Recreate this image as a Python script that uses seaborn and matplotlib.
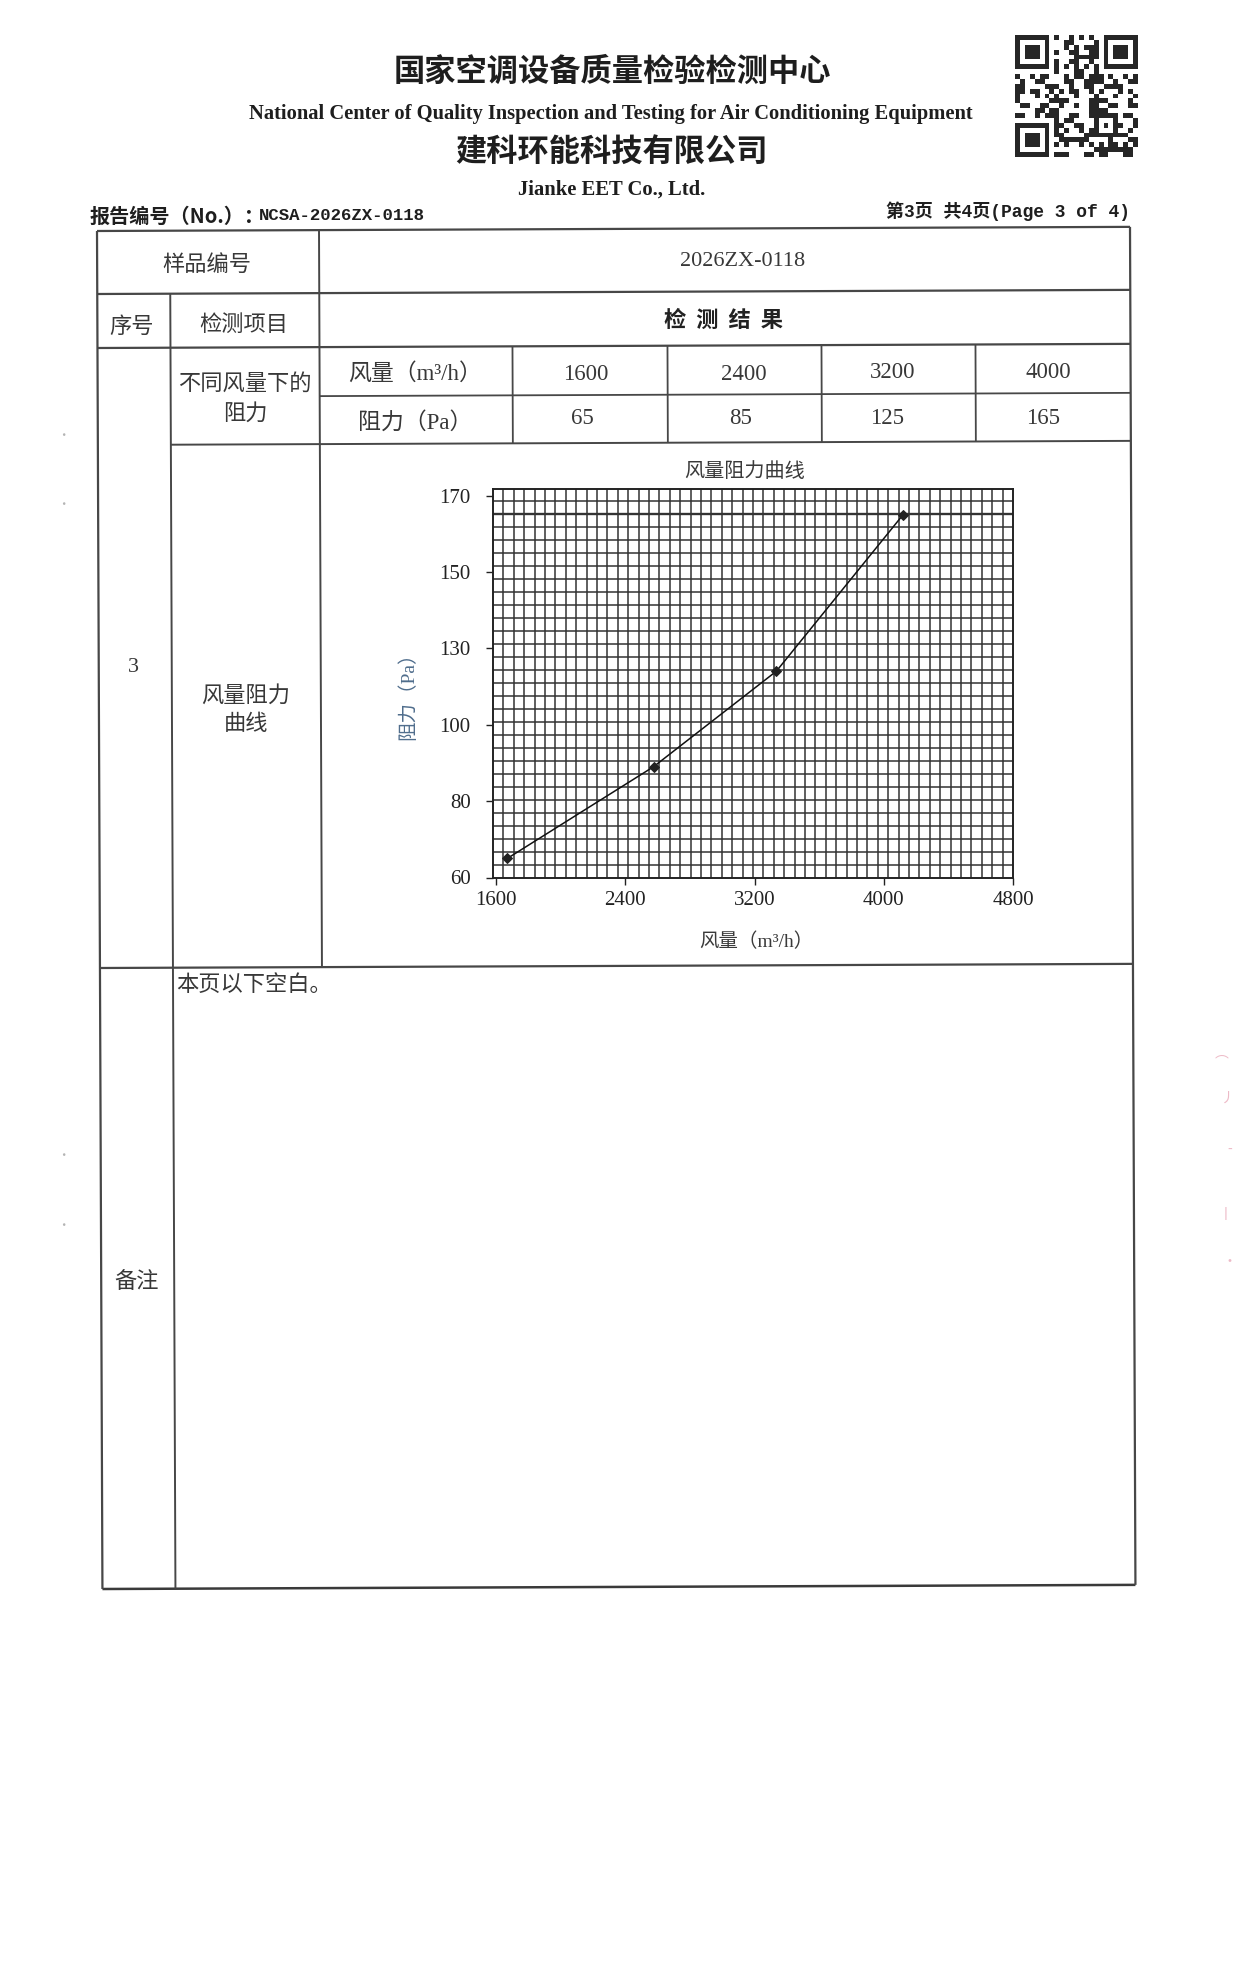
import numpy as np
import matplotlib
matplotlib.use('Agg')
import matplotlib.pyplot as plt
import matplotlib.ticker as mticker
from matplotlib.lines import Line2D
import seaborn as sns

# ---------------- data ----------------
table_airflow = [1600, 2400, 3200, 4000]
table_resistance = [65, 85, 125, 165]
curve_airflow = [1670, 2575, 3335, 4120]
curve_resistance = [65, 89, 121, 165]
x_ticks = [1600, 2400, 3200, 4000, 4800]
y_ticks = [60, 80, 100, 130, 150, 170]

sns.set_style('white')
CJK = 'Noto Sans CJK SC'
SERIF = ['Liberation Serif', CJK]
MONO = ['Liberation Mono', CJK]
plt.rcParams['font.family'] = [CJK, 'DejaVu Sans']

W, H = 1239, 1971
fig = plt.figure(figsize=(W / 100, H / 100), dpi=100)
fig.patch.set_facecolor('white')

A = 0.0040  # slight scan rotation


def P(x, y):
    xr = x + A * (y - 230)
    yr = y - A * (x - 97)
    return xr / W, 1 - yr / H


def seg(x0, y0, x1, y1, lw=1.4, c='#4a4a4a'):
    p0 = P(x0, y0)
    p1 = P(x1, y1)
    fig.add_artist(Line2D([p0[0], p1[0]], [p0[1], p1[1]],
                          transform=fig.transFigure, lw=lw, color=c,
                          solid_capstyle='butt'))


def txt(x, y, s, size=16, ha='center', va='center', family=None,
        weight='normal', color='#333333', **kw):
    fig.text(x / W, 1 - y / H, s, ha=ha, va=va, fontsize=size,
             family=family if family else [CJK, 'DejaVu Sans'],
             fontweight=weight, color=color, **kw)


# ---------------- header ----------------
txt(612, 72, '国家空调设备质量检验检测中心', size=22.5, weight='bold',
    color='#1e1e1e')
txt(611, 114, 'National Center of Quality Inspection and Testing for Air Conditioning Equipment',
    size=14.8, weight='bold', family=SERIF, color='#1e1e1e')
txt(611, 153, '建科环能科技有限公司', size=22.5, weight='bold',
    color='#1e1e1e')
txt(612, 190, 'Jianke EET Co., Ltd.', size=14.9, weight='bold',
    family=SERIF, color='#1e1e1e')
txt(90, 216, '报告编号（No.）：', size=14.5, ha='left', weight='bold',
    color='#1e1e1e')
txt(259, 216, 'NCSA-2026ZX-0118', size=12.5, ha='left', weight='bold',
    family=MONO, color='#1e1e1e')
txt(1130, 211, '第3页 共4页(Page 3 of 4)', size=13, ha='right',
    weight='bold', family=MONO, color='#1e1e1e')

# QR-like code (decorative)
n = 25
M = np.zeros((n, n))
for i in range(n):
    for j in range(n):
        M[i, j] = 1 if ((i * i * 3 + j * 5 + i * j * 7 + (i ^ j)) % 11) < 5 else 0
for (r, c) in [(0, 0), (0, n - 7), (n - 7, 0)]:
    M[max(r - 1, 0):r + 8, max(c - 1, 0):c + 8] = 0
    M[r:r + 7, c:c + 7] = 1
    M[r + 1:r + 6, c + 1:c + 6] = 0
    M[r + 2:r + 5, c + 2:c + 5] = 1
M[6, 8:n - 8] = [(k + 1) % 2 for k in range(n - 16)]
M[8:n - 8, 6] = [(k + 1) % 2 for k in range(n - 16)]
M[16:21, 16:21] = 1
M[17:20, 17:20] = 0
M[18, 18] = 1
axq = fig.add_axes([1015 / W, 1 - 157 / H, 123 / W, 122 / H])
axq.imshow(M, cmap='Greys', vmin=0, vmax=1.15, interpolation='nearest', aspect='auto')
axq.axis('off')

# ---------------- table ----------------
L, C1, C2, R = 97, 170, 319, 1130
VC = [512, 667, 821, 975]
R0, R1, R2, R3, R4, R5, R6 = 231, 294, 348, 397, 445, 968, 1589
lc = '#474747'
seg(L, R0, R, R0, lw=1.6, c=lc)
seg(L, R1, R, R1, lw=1.6, c=lc)
seg(L, R2, R, R2, lw=1.6, c=lc)
seg(C2, R3, R, R3, lw=1.3, c=lc)
seg(C1, R4, R, R4, lw=1.4, c=lc)
seg(L, R5, R, R5, lw=1.6, c=lc)
seg(L, R6, R, R6, lw=1.8, c='#3a3a3a')
seg(L, R0, L, R6, lw=1.6, c=lc)
seg(R, R0, R, R6, lw=1.6, c=lc)
seg(C1, R1, C1, R6, lw=1.4, c=lc)
seg(C2, R0, C2, R5, lw=1.4, c=lc)
for xc in VC:
    seg(xc, R2, xc, R4, lw=1.3, c=lc)

tc = '#383838'
txt(207, 264, '样品编号', color=tc)
txt(743, 262, '2026ZX-0118', size=16, family=SERIF, color=tc)
txt(132, 326, '序号', color=tc)
txt(244, 324, '检测项目', color=tc)
txt(724, 320, '检  测  结  果', weight='bold', size=16, color='#222222')
txt(245, 383, '不同风量下的', color=tc)
txt(245, 413, '阻力', color=tc)
txt(415, 374, '风量（m³/h）', size=16.5, family=SERIF, color=tc)
txt(415, 423, '阻力（Pa）', size=16.5, family=SERIF, color=tc)
row1_cx = [586, 744, 893, 1048]
row1_cy = [374, 374, 373, 372]
row2_cx = [582, 741, 887, 1043]
row2_cy = [419, 419, 418, 418]
for cx, cy, v in zip(row1_cx, row1_cy, table_airflow):
    txt(cx, cy, str(v), size=16.5, family=SERIF, color=tc)
for cx, cy, v in zip(row2_cx, row2_cy, table_resistance):
    txt(cx, cy, str(v), size=16.5, family=SERIF, color=tc)
txt(133, 668, '3', size=16, family=SERIF, color=tc)
txt(246, 695, '风量阻力', color=tc)
txt(246, 724, '曲线', color=tc)
txt(176, 984, '本页以下空白。', ha='left', color=tc)
txt(137, 1281, '备注', color=tc)

# scan specks in margins
for (x, y) in [(63, 436), (63, 505), (63, 1156), (63, 1225)]:
    txt(x, y, '·', size=9, color='#b5b5b5')
for (x, y, s) in [(1222, 1062, '⌒'), (1228, 1098, '丿'), (1230, 1150, '-'),
                  (1226, 1215, '丨'), (1230, 1262, '·')]:
    txt(x, y, s, size=10, color='#e9a9b9', alpha=0.8)

# ---------------- chart ----------------
ax = fig.add_axes([493 / W, 1 - 877.5 / H, 520 / W, 389 / H])
yv = [40] + y_ticks + [190]
yp = list(range(-1, len(y_ticks) + 1))


def fwd(v):
    return np.interp(v, yv, yp)


def inv(p):
    return np.interp(p, yp, yv)


ax.set_yscale('function', functions=(fwd, inv))
ax.set_xlim(1581, 4800)
ax.set_ylim(60, float(inv(5 + 7 / 76.3)))

# grid paper
gc = '#333333'
for k in range(1, 50):
    ax.plot([k / 50, k / 50], [0, 1], transform=ax.transAxes, color=gc,
            lw=1.1, zorder=1)
for k in range(1, 30):
    f = 13 * k / 389
    ax.plot([0, 1], [f, f], transform=ax.transAxes, color=gc,
            lw=1.7 if k == 28 else 1.1, zorder=1)

sns.lineplot(x=curve_airflow, y=curve_resistance, ax=ax, color='#111111',
             lw=1.1, marker='D', markersize=5.5, markeredgecolor='#222222',
             markerfacecolor='#222222', zorder=5)

ax.set_xticks(x_ticks, labels=[str(v) for v in x_ticks],
              fontfamily='Liberation Serif', fontsize=15, color='#222222')
ax.set_yticks(y_ticks, labels=[str(v) for v in y_ticks],
              fontfamily='Liberation Serif', fontsize=15, color='#222222')
ax.yaxis.set_minor_locator(mticker.NullLocator())
ax.xaxis.set_minor_locator(mticker.NullLocator())
ax.tick_params(axis='both', bottom=True, left=True, direction='out',
               length=5, width=1.0, color='#222222')
ax.tick_params(axis='y', pad=11)
ax.tick_params(axis='x', pad=5)
for s in ax.spines.values():
    s.set_visible(True)
    s.set_color('#222222')
    s.set_linewidth(1.4)

ax.set_xlabel('风量（m³/h）', family=SERIF, fontsize=14, color='#3a3a3a')
ax.xaxis.set_label_coords((756 - 493) / 520, (877.5 - 933) / 389)
ax.set_ylabel('阻力（Pa）', family=SERIF, fontsize=14, color='#4f6d8c')
ax.yaxis.set_label_coords((417 - 493) / 520, (877.5 - 691) / 389)
ax.text((745 - 493) / 520, 1 + 17 / 389, '风量阻力曲线', transform=ax.transAxes,
        ha='center', va='center', fontsize=14.5, color='#3a3a3a',
        family=[CJK, 'DejaVu Sans'])

fig.savefig('out.png', dpi=100, facecolor='white')
